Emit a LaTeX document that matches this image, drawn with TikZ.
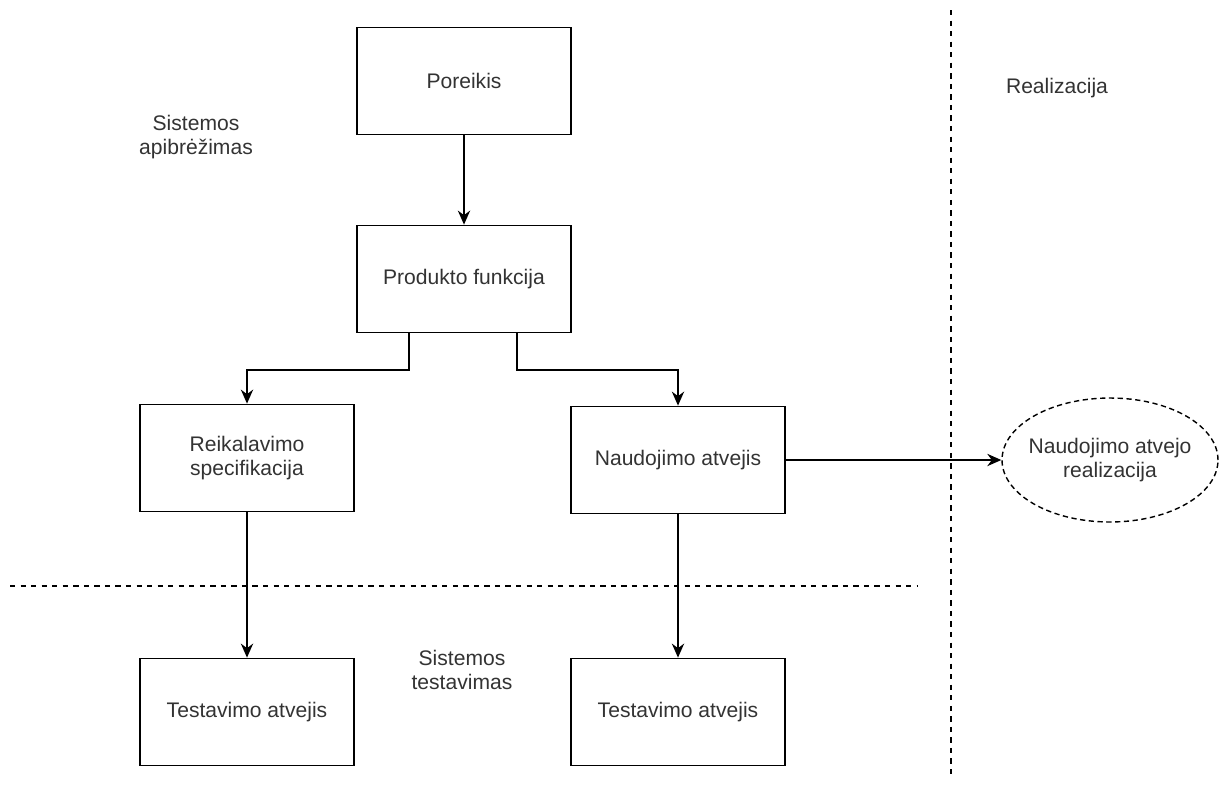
\documentclass[tikz,border=0pt]{standalone}
\usepackage{fontspec}
\setmainfont{Liberation Sans}
\usetikzlibrary{arrows.meta,shapes.geometric,positioning}
\definecolor{textgray}{rgb}{0.2,0.2,0.2}

\tikzset{
  box/.style={draw, line width=1pt, minimum width=4.28cm, minimum height=2.14cm, align=center, text=textgray, font=\fontsize{12}{14}\selectfont},
  lbl/.style={align=center, text=textgray, font=\fontsize{12}{14}\selectfont},
  conn/.style={line width=1pt, -{Stealth[length=8pt,width=7pt]}},
  sep/.style={line width=0.8pt, dash pattern=on 3pt off 3pt}
}

\begin{document}
\begin{tikzpicture}[x=0.02cm, y=-0.02cm]
      \useasboundingbox (0,0) rectangle (1227,785);
      % Boxes
      \node[box] (need) at (464,81) {Poreikis};
      \node[box] (func) at (464,279) {Produkto funkcija};
      \node[box] (spec) at (247,458) {Reikalavimo\\specifikacija};
      \node[box] (usecase) at (678,460) {Naudojimo atvejis};
      \node[box] (testl) at (247,712) {Testavimo atvejis};
      \node[box] (testr) at (678,712) {Testavimo atvejis};
      \node[draw, ellipse, line width=0.8pt, dash pattern=on 3pt off 2pt, inner xsep=-0.12cm, inner ysep=0pt, minimum width=4.32cm, minimum height=2.48cm, align=center, text=textgray, font=\fontsize{12}{14}\selectfont] (real) at (1110,460) {Naudojimo atvejo\\realizacija};
      % Labels
      \node[lbl] (lbldef) at (196,137) {Sistemos\\apibrėžimas};
      \node[lbl] (lblreal) at (1057,88) {Realizacija};
      \node[lbl] (lbltest) at (462,670) {Sistemos\\testavimas};
      % Separators
      \coordinate (hl) at (10,586);
      \coordinate (hr) at (917,586);
      \coordinate (vt) at (951,10);
      \coordinate (vb) at (951,775);
      \draw[sep] (hl) -- (hr);
      \draw[sep] (vt) -- (vb);
      % Connectors
      \draw[conn] (need) -- (func);
      \draw[conn] (func.south -| 409,0) |- (328,370) -| (spec.north);
      \draw[conn] (func.south -| 517,0) |- (600,370) -| (usecase.north);
      \draw[conn] (usecase.east) -- (usecase.east -| real.west);
      \draw[conn] (spec) -- (testl);
      \draw[conn] (usecase) -- (testr);
\end{tikzpicture}
\end{document}
